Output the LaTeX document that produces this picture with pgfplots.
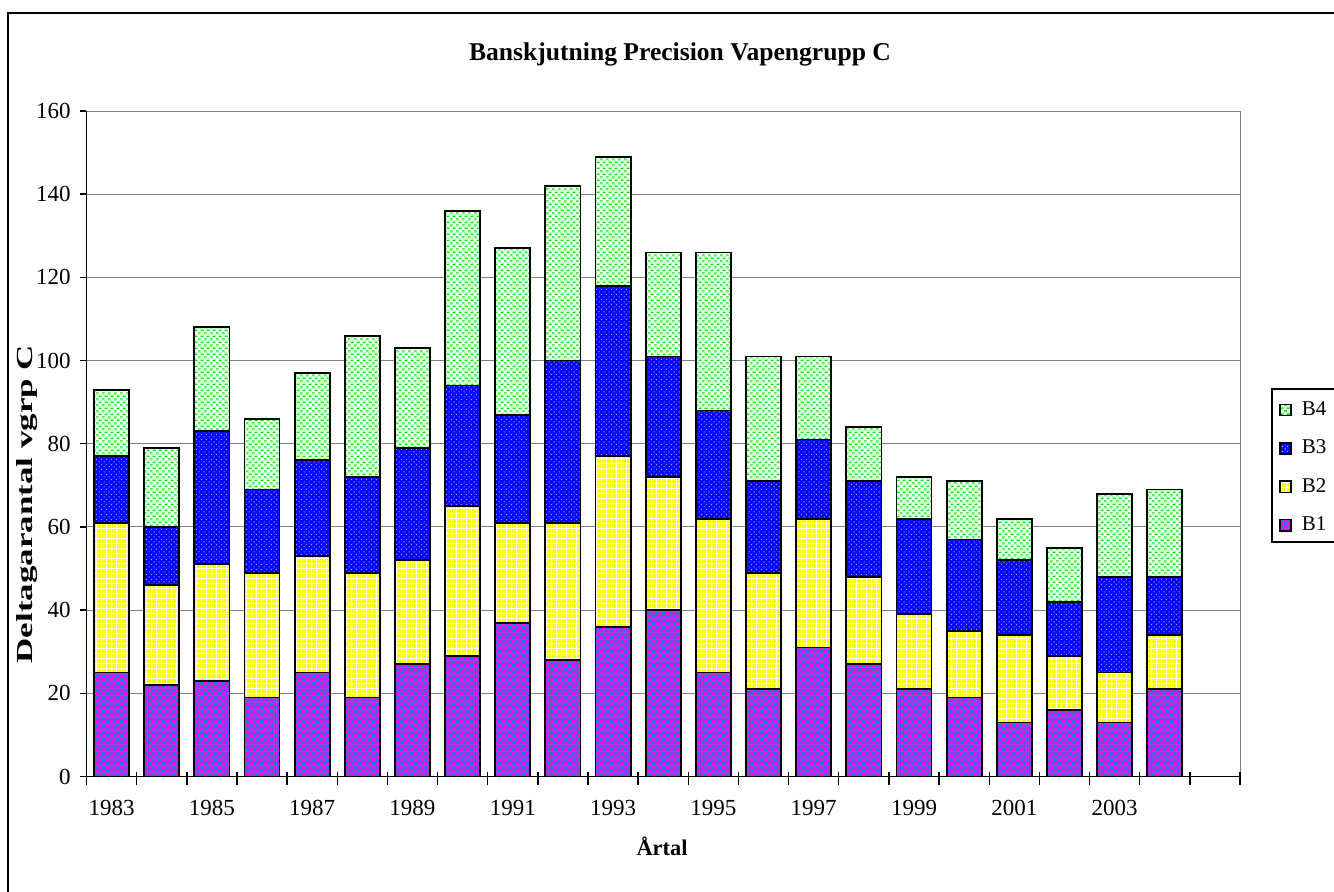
\documentclass[border=0pt]{standalone}
\usepackage{fontspec}
\setmainfont{Liberation Serif}
\usepackage{pgfplots}
\usepackage{pgfplotstable}
\pgfplotsset{compat=1.18}
\usetikzlibrary{patterns}

\definecolor{cBone}{RGB}{255,0,255}
\definecolor{cBoneb}{RGB}{40,120,210}
\definecolor{cBoneavg}{RGB}{160,70,235}
\definecolor{cBtwo}{RGB}{255,255,0}
\definecolor{cBtwoavg}{RGB}{255,255,90}
\definecolor{cBthree}{RGB}{0,0,255}
\definecolor{cBthreeb}{RGB}{170,180,255}
\definecolor{cBthreeavg}{RGB}{50,50,255}
\definecolor{cBfour}{RGB}{0,235,0}
\definecolor{cBfouravg}{RGB}{190,250,190}
\definecolor{gridgray}{RGB}{128,128,128}

\pgfdeclarepatterninherentlycolored{pBone}{\pgfpointorigin}{\pgfqpoint{3.3pt}{3.3pt}}{\pgfqpoint{3.3pt}{3.3pt}}{%
 \pgfsetfillcolor{cBone}%
 \pgfpathrectangle{\pgfpointorigin}{\pgfqpoint{3.3pt}{3.3pt}}\pgfusepath{fill}%
 \pgfsetfillcolor{cBoneb}%
 \pgfpathrectangle{\pgfpointorigin}{\pgfqpoint{1.65pt}{1.65pt}}%
 \pgfpathrectangle{\pgfqpoint{1.65pt}{1.65pt}}{\pgfqpoint{1.65pt}{1.65pt}}%
 \pgfusepath{fill}}
\pgfdeclarepatterninherentlycolored{pBtwo}{\pgfpointorigin}{\pgfqpoint{2.4pt}{2.4pt}}{\pgfqpoint{2.4pt}{2.4pt}}{%
 \pgfsetfillcolor{cBtwo}%
 \pgfpathrectangle{\pgfpointorigin}{\pgfqpoint{2.4pt}{2.4pt}}\pgfusepath{fill}%
 \pgfsetfillcolor{white}%
 \pgfpathrectangle{\pgfpointorigin}{\pgfqpoint{2.4pt}{0.5pt}}%
 \pgfpathrectangle{\pgfqpoint{0pt}{0.5pt}}{\pgfqpoint{0.5pt}{1.9pt}}%
 \pgfusepath{fill}}
\pgfdeclarepatterninherentlycolored{pBthree}{\pgfpointorigin}{\pgfqpoint{2.6pt}{2.6pt}}{\pgfqpoint{2.6pt}{2.6pt}}{%
 \pgfsetfillcolor{cBthree}%
 \pgfpathrectangle{\pgfpointorigin}{\pgfqpoint{2.6pt}{2.6pt}}\pgfusepath{fill}%
 \pgfsetfillcolor{cBthreeb}%
 \pgfpathcircle{\pgfqpoint{0.65pt}{0.65pt}}{0.4pt}%
 \pgfpathcircle{\pgfqpoint{1.95pt}{1.95pt}}{0.4pt}%
 \pgfusepath{fill}}
\pgfdeclarepatterninherentlycolored{pBfour}{\pgfpointorigin}{\pgfqpoint{3pt}{3pt}}{\pgfqpoint{3pt}{3pt}}{%
 \pgfsetfillcolor{white}%
 \pgfpathrectangle{\pgfpointorigin}{\pgfqpoint{3pt}{3pt}}\pgfusepath{fill}%
 \pgfsetfillcolor{cBfour}%
 \pgfpathrectangle{\pgfqpoint{0pt}{0.2pt}}{\pgfqpoint{1.6pt}{0.8pt}}%
 \pgfpathrectangle{\pgfqpoint{1.5pt}{1.7pt}}{\pgfqpoint{1.5pt}{0.8pt}}%
 \pgfusepath{fill}}

\pgfplotstableread{
year B1 B2 B3 B4
1983 25 36 16 16
1984 22 24 14 19
1985 23 28 32 25
1986 19 30 20 17
1987 25 28 23 21
1988 19 30 23 34
1989 27 25 27 24
1990 29 36 29 42
1991 37 24 26 40
1992 28 33 39 42
1993 36 41 41 31
1994 40 32 29 25
1995 25 37 26 38
1996 21 28 22 30
1997 31 31 19 20
1998 27 21 23 13
1999 21 18 23 10
2000 19 16 22 14
2001 13 21 18 10
2002 16 13 13 13
2003 13 12 23 20
2004 21 13 14 21
}\data

\pgfplotsset{myleg/.style={legend image code/.code={\draw[##1,line width=0.7pt] (0pt,-2.75pt) rectangle (5.5pt,2.75pt);}}}

\begin{document}
\begin{tikzpicture}
\begin{axis}[
  at={(43.25pt,57.25pt)}, anchor=south west, scale only axis,
  width=576.75pt, height=332.75pt,
  ybar stacked, bar width=0.7,
  xmin=1982.5, xmax=2005.5, ymin=0, ymax=160,
  ytick={0,20,...,160},
  xtick={1983,1985,...,2003},
  xticklabels={1983,1985,1987,1989,1991,1993,1995,1997,1999,2001,2003},
  tick pos=left,
  ymajorgrids,
  grid style={gridgray, line width=0.5pt},
  axis line style={draw=gridgray, line width=0.5pt},
  tick style={black, line width=0.7pt},
  tick align=outside, major tick length=3.25pt,
  major x tick style={draw=none},
  /pgf/number format/assume math mode=true,
  ticklabel style={font=\fontsize{11.5}{13}\selectfont},
  yticklabel style={xshift=-1.2pt},
  xticklabel style={yshift=-5pt},
  reverse legend,
  legend style={at={(1.0338,0.5775)}, anchor=north west, draw=none, fill=none,
    inner xsep=0pt, inner ysep=2.5pt, row sep=6.75pt,
    /tikz/every odd column/.append style={column sep=3pt},
    font=\fontsize{10.5}{12}\selectfont},
  legend cell align=left,
  clip=false,
]
\addplot[myleg, draw=black, line width=0.9pt,
  preaction={fill=cBoneavg}, pattern=pBone] table[x=year,y=B1]{\data};
\addlegendentry{B1}
\addplot[myleg, draw=black, line width=0.9pt,
  preaction={fill=cBtwoavg}, pattern=pBtwo] table[x=year,y=B2]{\data};
\addlegendentry{B2}
\addplot[myleg, draw=black, line width=0.9pt,
  preaction={fill=cBthreeavg}, pattern=pBthree] table[x=year,y=B3]{\data};
\addlegendentry{B3}
\addplot[myleg, draw=black, line width=0.9pt,
  preaction={fill=cBfouravg}, pattern=pBfour] table[x=year,y=B4]{\data};
\addlegendentry{B4}
\pgfplotsinvokeforeach{1982.5,1983.5,...,2005.5}{
  \draw[black, line width=0.7pt] (axis cs:#1,0) ++(0pt,2.5pt) -- ++(0pt,-6.5pt);
}
\end{axis}
\draw[black, line width=0.75pt] (43.25pt,390pt) -- (43.25pt,57.25pt) -- (620pt,57.25pt);
\draw[black, line width=0.6pt] (636pt,251pt) rectangle (690pt,174.5pt);
\draw[black, line width=0.6pt] (4pt,-10pt) rectangle (690pt,439pt);
\node[anchor=base] at (340pt,415pt) {\fontsize{12.8}{15}\selectfont\bfseries Banskjutning Precision Vapengrupp C};
\node[anchor=base] at (331pt,18pt) {\fontsize{11.2}{13}\selectfont\bfseries Årtal};
\node[rotate=90] at (13.5pt,193.5pt) {\scalebox{1.52}[1]{\fontsize{11.5}{13}\selectfont\bfseries Deltagarantal vgrp C}};
\pgfresetboundingbox
\path[use as bounding box] (0pt,0pt) rectangle (667pt,445.5pt);
\end{tikzpicture}
\end{document}
